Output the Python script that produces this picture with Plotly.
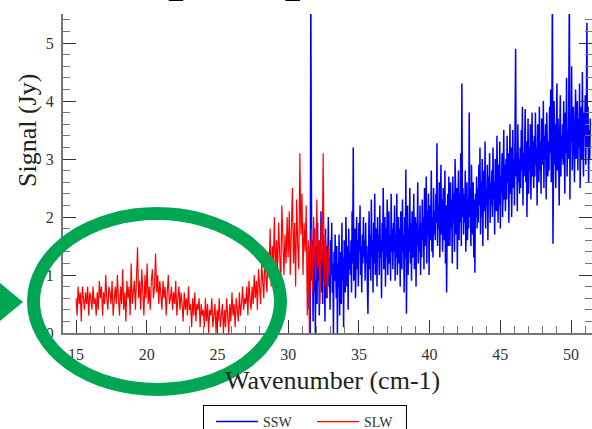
import numpy as np
import plotly.graph_objects as go

# ---- data ----
slw_start, slw_step = 15.0, 0.075
slw_signal = [
    0.6,0.3,0.8,0.5,0.7,0.2,0.8,0.6,0.4,0.7,0.5,0.8,0.3,0.7,0.6,0.4,0.8,0.5,0.6,0.3,
    0.7,0.4,0.9,0.6,0.8,0.3,0.7,0.5,1.0,0.6,0.4,0.8,0.7,0.5,0.9,0.3,0.6,0.8,0.5,1.0,
    0.6,0.3,0.8,0.5,1.1,0.4,0.7,0.2,0.9,0.6,0.8,0.3,1.2,0.5,0.7,0.9,0.4,1.0,1.48,0.6,
    0.9,0.4,1.1,0.7,0.3,1.0,0.6,1.2,0.5,0.8,0.4,0.9,1.1,0.6,0.8,1.37,0.7,1.0,0.5,0.9,
    0.7,0.4,0.9,0.6,0.8,0.3,0.7,1.0,0.5,0.6,0.8,0.4,0.7,0.5,0.9,0.3,0.6,0.8,0.4,0.7,
    0.5,0.2,0.7,0.4,0.6,0.3,0.8,0.4,0.5,0.1,0.6,0.3,0.7,0.2,0.5,0.4,0.6,0.1,0.5,0.3,
    0.4,0.1,0.6,0.2,0.5,0.0,0.4,0.3,0.6,0.1,0.3,0.5,0.0,0.4,0.2,0.6,0.1,0.3,0.5,0.0,
    0.4,0.1,0.6,0.3,0.0,0.5,0.2,0.7,0.3,0.5,0.1,0.6,0.4,0.2,0.7,0.3,0.5,0.8,0.4,0.6,
    0.5,0.8,0.3,0.9,0.6,0.4,0.8,0.5,1.0,0.6,0.9,0.4,1.1,0.7,0.5,1.2,0.8,0.6,1.3,0.9,
    0.7,1.4,1.0,1.8,0.8,1.5,1.2,2.0,0.9,1.6,1.1,1.9,1.3,0.8,2.2,1.4,1.0,1.7,1.2,2.0,
    1.3,2.1,1.0,1.8,2.5,1.2,1.9,0.8,2.3,1.5,1.1,3.1,1.7,2.4,1.0,1.9,1.4,2.2,0.3,1.6,
    0.0,1.2,1.8,0.7,2.0,1.4,0.9,2.3,1.1,1.6,0.5,1.9,1.2,3.1,0.8,1.7,1.3,0.6,1.5,1.0,
]

ssw_start, ssw_step = 31.4, 0.04
ssw_signal = [
    0.8,1.5,0.4,1.2,0.0,6.0,2.6,0.9,1.6,0.2,1.3,0.7,1.8,0.0,1.1,1.5,0.5,1.9,0.9,1.4,0.3,1.6,1.0,2.1,0.7,
    1.2,0.5,1.7,0.9,1.4,0.2,1.8,1.0,0.6,1.5,1.1,2.0,0.8,1.3,0.4,1.6,1.0,1.9,0.7,1.2,0.0,1.4,0.9,1.7,1.1,
    0.6,1.5,0.0,1.2,0.8,1.7,0.3,1.1,1.4,0.5,1.9,0.9,1.3,0.1,1.6,1.0,0.7,2.0,1.2,0.8,1.5,0.4,1.8,1.1,1.4,
    1.0,1.6,0.7,2.1,1.2,3.2,0.9,1.5,1.8,0.6,1.3,2.0,1.1,1.6,0.8,1.9,1.4,2.2,1.0,1.5,0.7,1.7,1.2,2.0,1.3,
    1.6,0.9,1.9,1.2,1.5,0.8,0.33,1.4,2.1,1.1,1.7,0.9,2.3,1.3,1.6,0.7,1.9,1.2,2.4,1.0,1.5,1.8,0.8,2.0,1.4,
    1.7,1.0,2.2,1.3,1.6,0.6,1.9,1.4,2.5,1.1,1.5,2.0,0.8,1.8,1.3,2.3,1.0,1.6,2.1,1.2,1.7,0.9,2.4,1.4,1.8,
    1.1,1.9,1.4,2.2,0.9,1.7,1.3,2.4,1.0,1.6,2.0,1.2,1.8,0.8,2.1,1.5,1.1,2.3,1.4,1.7,0.7,2.0,1.3,2.82,0.33,
    1.5,2.2,1.0,1.8,1.4,2.5,1.2,1.9,0.9,2.1,1.6,1.3,2.4,1.1,1.7,2.0,0.8,1.9,1.5,2.6,1.2,1.8,1.4,2.2,1.0,
    1.9,1.3,2.3,1.6,2.0,1.1,2.5,1.5,1.8,2.7,1.2,2.1,1.7,2.4,1.0,2.2,1.6,1.9,2.8,1.4,2.0,1.3,2.5,1.7,2.1,
    1.6,2.4,1.9,3.27,1.5,2.2,1.8,2.6,1.3,2.1,2.9,1.7,2.3,1.4,2.5,2.0,1.6,2.8,1.2,2.2,0.70,1.9,2.4,1.5,2.7,
    2.0,1.5,2.6,1.8,2.3,1.2,2.7,1.9,2.4,1.4,3.0,2.1,1.7,2.5,1.1,2.2,2.8,1.6,2.4,1.9,3.1,1.5,4.3,2.0,2.5,
    1.7,2.4,1.9,2.8,1.4,2.2,2.6,1.6,2.3,1.8,3.8,2.0,2.5,1.5,2.9,2.1,1.7,2.6,1.3,2.3,1.04,2.4,2.0,2.7,1.8,
    2.5,1.9,2.9,2.2,3.2,1.7,2.6,2.0,3.0,1.5,2.4,2.8,2.1,3.3,1.8,2.5,2.2,2.9,1.6,2.7,2.3,3.1,1.9,2.6,2.2,
    2.8,2.0,3.2,2.3,2.6,1.7,3.0,2.4,2.1,3.4,2.5,1.9,2.9,2.2,3.3,1.8,2.7,2.4,3.1,2.0,2.6,3.5,2.3,2.9,2.1,
    3.0,2.3,3.4,2.6,3.1,1.9,2.8,3.6,2.4,3.2,2.0,2.9,3.5,2.5,3.0,2.2,3.3,4.9,2.7,3.1,2.1,3.6,2.6,3.0,2.4,
    3.2,2.5,3.5,2.8,3.9,2.2,3.1,2.7,3.4,3.86,2.6,3.3,2.0,3.0,3.7,2.4,3.2,2.8,3.6,2.3,3.1,3.8,2.7,3.3,2.5,
    3.4,2.7,3.8,2.9,3.2,2.2,3.6,3.0,2.6,3.9,2.8,3.3,2.4,3.7,3.1,2.9,4.0,2.5,3.4,3.0,3.6,2.3,3.8,3.1,2.7,
    3.3,2.8,3.9,3.1,4.2,2.6,3.5,6.0,1.54,3.2,4.0,2.9,3.6,2.5,3.3,4.3,2.8,3.7,3.0,2.2,3.5,4.1,2.7,3.4,3.0,
    3.6,2.9,4.0,3.2,2.4,3.8,3.1,4.4,2.7,3.5,3.0,4.1,6.0,2.3,3.7,3.3,4.6,2.8,3.4,3.9,3.1,2.6,3.6,4.2,3.0,
    3.5,4.0,2.8,3.7,3.2,4.3,2.5,3.6,3.9,3.0,4.5,3.3,2.7,3.8,3.4,4.1,2.9,3.6,5.35,3.2,3.9,2.6,3.5,3.0,3.7,
]

series_names = ["SSW", "SLW"]
series_colors = ["#0000FF", "#FF0000"]
x_title = "Wavenumber (cm-1)"
y_title = "Signal (Jy)"
title_text = "Example Spectrum"

slw_x = slw_start + slw_step * np.arange(len(slw_signal))
ssw_x = ssw_start + ssw_step * np.arange(len(ssw_signal))

# ---- layout geometry (page pixels) ----
W, H = 592, 429
ML, MR, MT, MB = 63, 0, 14, 96
PW, PH = W - ML - MR, H - MT - MB

def px(x):
    return (x - ML) / PW

def py(y):
    return (H - MB - y) / PH

SERIF = "Liberation Serif, Times New Roman, serif"
GREEN = "#00A651"

fig = go.Figure()
fig.add_trace(go.Scatter(x=ssw_x, y=ssw_signal, mode="lines", name=series_names[0],
                         line=dict(color=series_colors[0], width=1.5)))
fig.add_trace(go.Scatter(x=slw_x, y=slw_signal, mode="lines", name=series_names[1],
                         line=dict(color=series_colors[1], width=1.2)))

fig.update_layout(
    width=W, height=H,
    margin=dict(l=ML, r=MR, t=MT, b=MB, pad=0, autoexpand=False),
    paper_bgcolor="white", plot_bgcolor="white",
    font=dict(family=SERIF, color="#333"),
    showlegend=True,
    legend=dict(orientation="h", x=px(203), y=py(405), xanchor="left", yanchor="top",
                bordercolor="#000", borderwidth=1, bgcolor="white",
                font=dict(family=SERIF, size=14, color="#333"),
                itemwidth=42, indentation=7,
                entrywidth=37, entrywidthmode="pixels", traceorder="normal"),
    xaxis=dict(range=[14.08, 51.48], showgrid=False, zeroline=False, automargin=False,
               showline=True, linecolor="#777", linewidth=2,
               ticks="inside", ticklen=13, tickwidth=1, tickcolor="#333",
               dtick=5, tick0=0, ticklabelstandoff=6,
               minor=dict(dtick=1, ticks="inside", ticklen=7, tickcolor="#777", tickwidth=1),
               tickfont=dict(family=SERIF, size=16, color="#333")),
    yaxis=dict(range=[0, 5.5], showgrid=False, zeroline=False, automargin=False,
               showline=True, linecolor="#777", linewidth=2, mirror="ticks",
               ticks="inside", ticklen=13, tickwidth=1, tickcolor="#333",
               dtick=1, tick0=0, ticklabelstandoff=4,
               minor=dict(dtick=0.2, ticks="inside", ticklen=7, tickcolor="#777", tickwidth=1),
               tickfont=dict(family=SERIF, size=16, color="#333")),
    shapes=[
        dict(type="circle", xref="paper", yref="paper",
             x0=px(33.5), x1=px(280.5), y0=py(389.5), y1=py(213.5),
             line=dict(color=GREEN, width=13), layer="above"),
        dict(type="path", xref="paper", yref="paper",
             path=f"M {px(-5)} {py(279)} L {px(23)} {py(302)} L {px(-5)} {py(325)} Z",
             fillcolor=GREEN, line=dict(width=0), layer="above"),
    ],
    annotations=[
        dict(text=title_text, xref="paper", yref="paper", x=px(26), y=py(3),
             xanchor="left", yanchor="bottom", showarrow=False,
             font=dict(family=SERIF, size=56, color="#000", weight="bold")),
        dict(text=x_title, xref="paper", yref="paper", x=px(332), y=py(380),
             xanchor="center", yanchor="middle", showarrow=False,
             font=dict(family=SERIF, size=26, color="#222")),
        dict(text=y_title, xref="paper", yref="paper", x=px(27), y=py(131),
             xanchor="center", yanchor="middle", showarrow=False, textangle=-90,
             font=dict(family=SERIF, size=26, color="#222")),
    ],
)

fig.write_html("out.html")
